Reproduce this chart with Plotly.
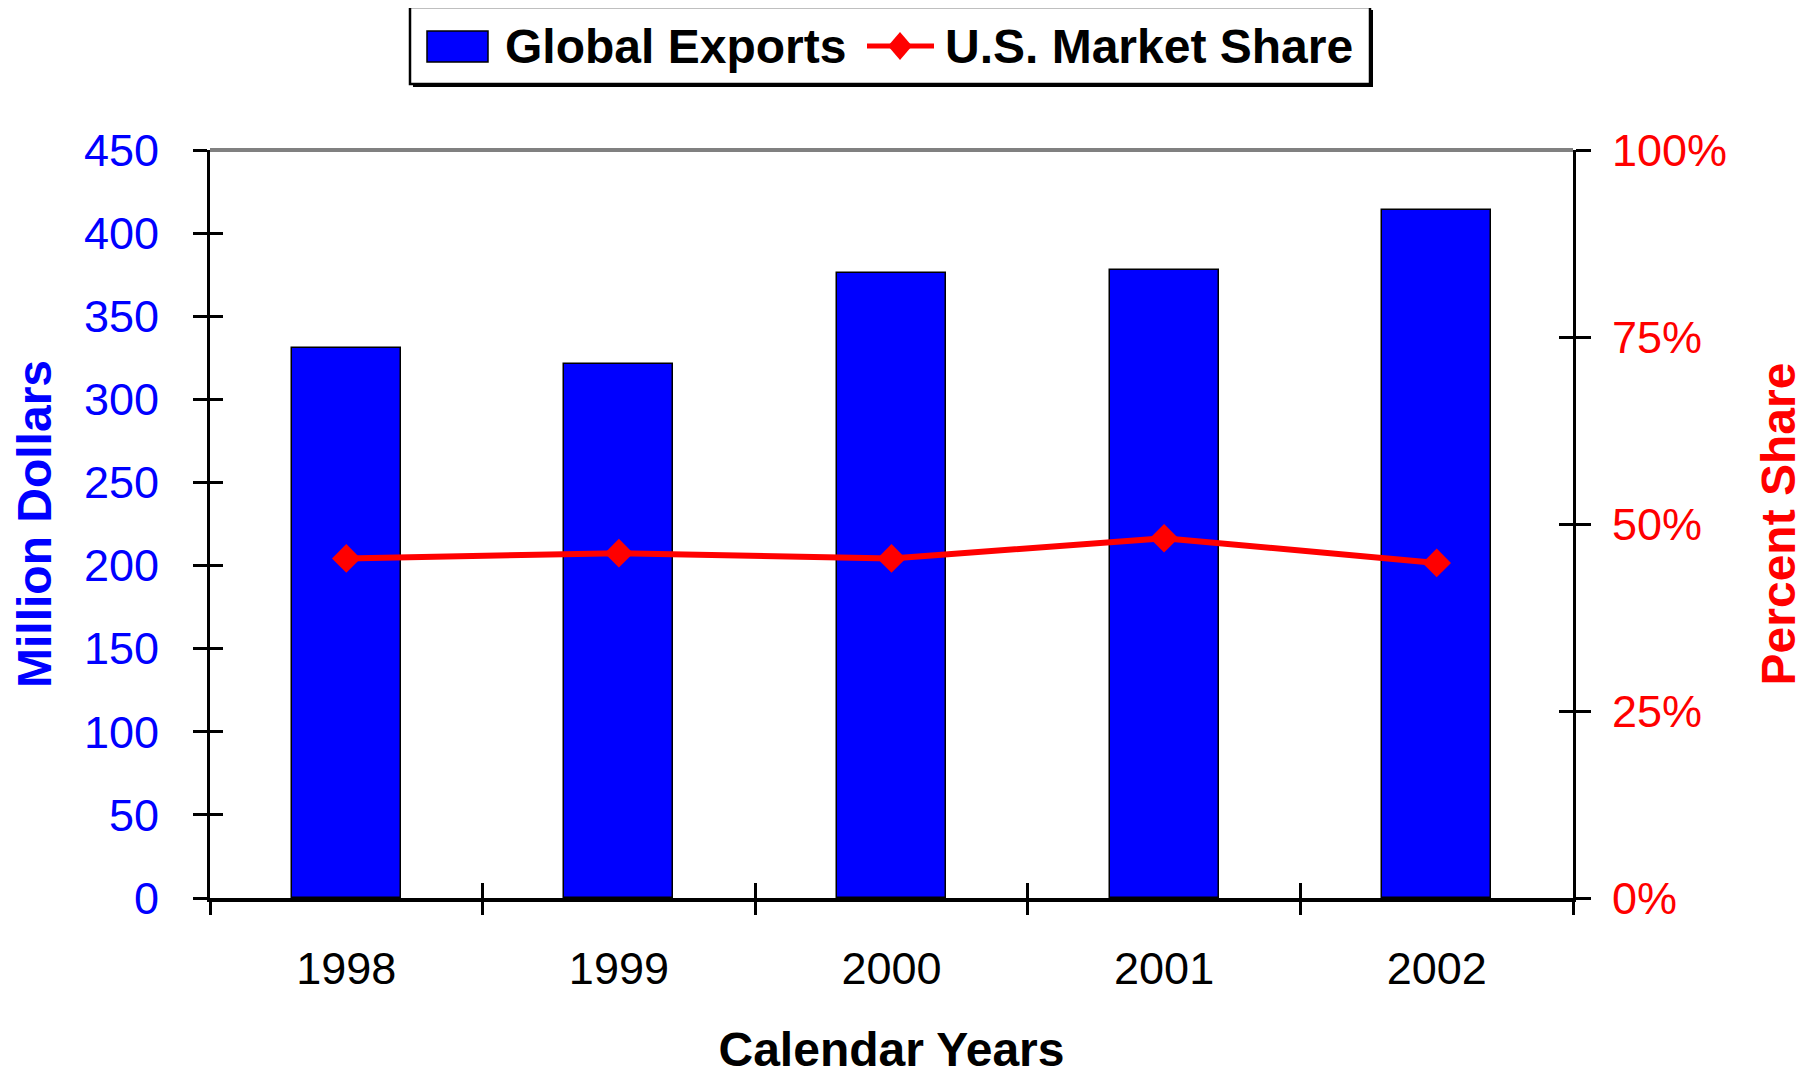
import plotly.graph_objects as go

# ---- data ----
years = [1998, 1999, 2000, 2001, 2002]
year_labels = ["1998", "1999", "2000", "2001", "2002"]
global_exports = [331, 321, 376, 378, 414]          # million dollars
us_share = [0.454, 0.461, 0.454, 0.481, 0.448]      # fraction
left_ticks = [0, 50, 100, 150, 200, 250, 300, 350, 400, 450]
right_ticks = [0, 0.25, 0.5, 0.75, 1.0]

W, H = 1812, 1068
OFF = 8  # page body margin
L, R, T, B = 210 - OFF, 1573 - OFF, 150 - OFF, 898 - OFF
FONT = "Liberation Sans, Arial, sans-serif"
BLUE = "#0000FF"
RED = "#FF0000"

xr = [years[0] - 0.5, years[-1] + 0.5]
bounds = [y - 0.5 for y in years] + [years[-1] + 0.5]

fig = go.Figure()
fig.add_trace(go.Bar(x=years, y=global_exports, width=0.4, name="Global Exports",
                     marker=dict(color=BLUE, line=dict(color="black", width=1.5)),
                     xaxis="x", yaxis="y", showlegend=False))
fig.add_trace(go.Scatter(x=years, y=us_share, mode="lines+markers", name="U.S. Market Share",
                         line=dict(color=RED, width=6),
                         marker=dict(symbol="diamond", size=22, color=RED),
                         xaxis="x", yaxis="y2", showlegend=False))
# helper invisible traces so overlay axes (cross ticks) are drawn
fig.add_trace(go.Scatter(x=[None], y=[None], xaxis="x2", yaxis="y3", showlegend=False, hoverinfo="skip"))
fig.add_trace(go.Scatter(x=[None], y=[None], xaxis="x3", yaxis="y4", showlegend=False, hoverinfo="skip"))

tickfont = dict(family=FONT, size=45)
titlefont = dict(family=FONT, size=48)

fig.update_layout(
    width=W, height=H,
    margin=dict(l=L, r=W - R, t=T, b=H - B, pad=0, autoexpand=False),
    paper_bgcolor="white", plot_bgcolor="white",
    showlegend=False,
    bargap=0,
    xaxis=dict(range=xr, tickvals=years, ticktext=year_labels, ticks="", automargin=False,
               showline=True, linecolor="black", linewidth=4, showgrid=False, zeroline=False,
               tickfont=dict(tickfont, color="black"), ticklabelstandoff=28,
               title=dict(text="<b>Calendar Years</b>", font=dict(titlefont, color="black"), standoff=71),
               anchor="y"),
    xaxis2=dict(range=xr, overlaying="x", anchor="y", side="bottom", tickvals=bounds, automargin=False,
                ticks="outside", ticklen=16, tickwidth=2.5, tickcolor="black",
                showticklabels=False, showline=False, showgrid=False, zeroline=False),
    xaxis3=dict(range=xr, overlaying="x", anchor="y", side="bottom", tickvals=bounds, automargin=False,
                ticks="inside", ticklen=15, tickwidth=2.5, tickcolor="black",
                showticklabels=False, showline=False, showgrid=False, zeroline=False),
    yaxis=dict(range=[0, 450], tickvals=left_ticks, ticks="outside", ticklen=14, tickwidth=3,
               tickcolor="black", showline=True, linecolor="black", linewidth=3, automargin=False,
               showgrid=False, zeroline=False, tickfont=dict(tickfont, color=BLUE),
               ticklabelstandoff=25,
               title=dict(text="<b>Million Dollars</b>", font=dict(titlefont, color=BLUE), standoff=41),
               anchor="x"),
    yaxis2=dict(range=[0, 1], tickvals=right_ticks, tickformat=".0%", overlaying="y", side="right",
                ticks="outside", ticklen=15, tickwidth=3, tickcolor="black", automargin=False,
                showline=True, linecolor="black", linewidth=3, showgrid=False, zeroline=False,
                tickfont=dict(tickfont, color=RED), ticklabelstandoff=12,
                title=dict(text="<b>Percent Share</b>", font=dict(titlefont, color=RED), standoff=36),
                anchor="x"),
    yaxis3=dict(range=[0, 450], tickvals=left_ticks, overlaying="y", side="left", anchor="x",
                ticks="inside", ticklen=13, tickwidth=3, tickcolor="black", automargin=False,
                showticklabels=False, showline=False, showgrid=False, zeroline=False),
    yaxis4=dict(range=[0, 1], tickvals=right_ticks, overlaying="y", side="right", anchor="x",
                ticks="inside", ticklen=14, tickwidth=3, tickcolor="black", automargin=False,
                showticklabels=False, showline=False, showgrid=False, zeroline=False),
)

# gray top border of plot area
fig.add_shape(type="line", xref="paper", yref="paper", x0=0, x1=1, y0=1, y1=1,
              line=dict(color="#808080", width=4), layer="below")

# ---- custom legend (screen pixel positions converted to paper coords) ----
def px(x):
    return (x - OFF - L) / (R - L)

def py(y):
    return (B - (y - OFF)) / (B - T)

# shadow + box
fig.add_shape(type="rect", xref="paper", yref="paper", x0=px(413), x1=px(1373), y0=py(87), y1=py(10),
              line=dict(width=0), fillcolor="black", layer="above")
fig.add_shape(type="rect", xref="paper", yref="paper", x0=px(410), x1=px(1370), y0=py(84), y1=py(7),
              line=dict(color="black", width=2.5), fillcolor="white", layer="above")
# bar symbol
fig.add_shape(type="rect", xref="paper", yref="paper", x0=px(427), x1=px(488), y0=py(62), y1=py(31),
              line=dict(color="black", width=1.5), fillcolor=BLUE, layer="above")
fig.add_annotation(text="<b>Global Exports</b>", xref="paper", yref="paper", x=px(503), y=py(46),
                   xanchor="left", yanchor="middle", showarrow=False,
                   font=dict(family=FONT, size=48, color="black"))
# line symbol
fig.add_shape(type="line", xref="paper", yref="paper", x0=px(867), x1=px(934), y0=py(46), y1=py(46),
              line=dict(color=RED, width=5), layer="above")
cx, cy, hw, hh = 900, 46, 12, 14
fig.add_shape(type="path", xref="paper", yref="paper",
              path=f"M {px(cx - hw)} {py(cy)} L {px(cx)} {py(cy - hh)} L {px(cx + hw)} {py(cy)} L {px(cx)} {py(cy + hh)} Z",
              line=dict(width=0), fillcolor=RED, layer="above")
fig.add_annotation(text="<b>U.S. Market Share</b>", xref="paper", yref="paper", x=px(943), y=py(46),
                   xanchor="left", yanchor="middle", showarrow=False,
                   font=dict(family=FONT, size=48, color="black"))

fig.write_html("out.html")
